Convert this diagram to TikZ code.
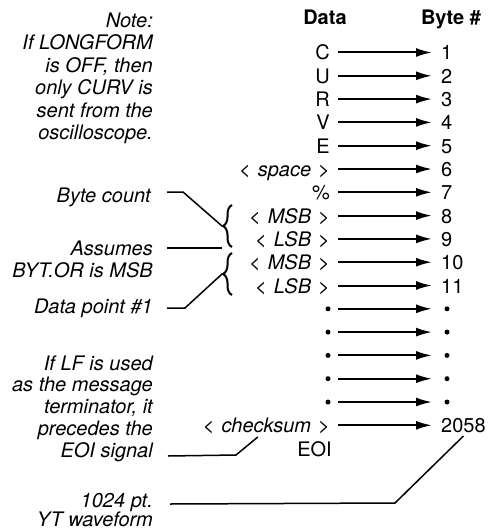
\documentclass[tikz,border=0pt]{standalone}
\usepackage{fontspec}
\setmainfont{TeX Gyre Heros}
\usetikzlibrary{arrows.meta,decorations.pathreplacing}
\newcommand{\angl}[1]{\textit{<\hspace{0.35em}#1\hspace{0.35em}>}}
\begin{document}
\begin{tikzpicture}[x=1pt,y=-1pt,
  every node/.style={inner sep=0pt, font=\fontsize{20}{22}\selectfont},
  hdr/.style={anchor=base, font=\fontsize{20}{22}\selectfont\bfseries},
  note/.style={align=right, anchor=north east},
  lab/.style={anchor=base east, inner xsep=8pt, inner ysep=0pt, text height=18pt, text depth=3pt},
  num/.style={anchor=base west, inner xsep=9pt, inner ysep=0pt, text height=18pt, text depth=3pt},
  bul/.style={circle, fill=black, inner sep=0pt, minimum size=5pt},
  arr/.style={line width=2pt, -{Latex[length=16pt,width=9pt]}},
  lead/.style={line width=1.5pt},
  brc/.style={line width=2pt, decorate, decoration={brace, amplitude=9pt}},
]
\useasboundingbox (0,0) rectangle (490,532);

% headers
\node[hdr] (hdata) at (325,25) {Data};
\node[hdr] (hbyte) at (451,25) {Byte \#};

% data labels and byte numbers
\foreach \t [count=\i from 0] in {C,U,R,V,E,{\angl{space}},\%,{\angl{MSB}},{\angl{LSB}},{\angl{MSB}},{\angl{LSB}}} {
  \node[lab] (l\i) at (338,{60+23.3*\i}) {\t};
  \node[num] (n\i) at (432,{60+23.3*\i}) {\the\numexpr\i+1\relax};
  \draw[arr] (l\i.east) -- (n\i.west);
}
\foreach \i in {11,...,15} {
  \node[bul] (l\i) at (328,{52.5+23.3*\i}) {};
  \node[bul] (n\i) at (447,{52.5+23.3*\i}) {};
  \draw[arr] ([xshift=10pt]l\i.center) -- ([xshift=-15pt]n\i.center);
}
\node[lab] (l16) at (338,{60+23.3*16}) {\angl{checksum}};
\node[num] (n16) at (432,{60+23.3*16}) {2058};
\draw[arr] (l16.east) -- (n16.west);
\node[anchor=base east] (eoi) at (332,456) {EOI};

% notes
\node[note, font=\fontsize{20}{22.5}\selectfont\itshape] (note) at (153,12.6)
  {Note:\\If LONGFORM\\is OFF, then\\only CURV is\\sent from the\\oscilloscope.};
\node[anchor=base east, font=\fontsize{20}{22}\selectfont\itshape] (bc) at (151,202) {Byte count};
\node[note, font=\fontsize{20}{22}\selectfont\itshape] (as) at (153,240.6) {Assumes\\BYT.OR is MSB};
\node[anchor=base east, font=\fontsize{20}{22}\selectfont\itshape] (dp) at (153,313) {Data point \#1};
\node[note, font=\fontsize{20}{21.75}\selectfont\itshape] (lf) at (153,355.4)
  {If LF is used\\as the message\\terminator, it\\precedes the\\EOI signal};
\node[note, font=\fontsize{20}{19.5}\selectfont\itshape] (yt) at (153,493) {1024 pt.\\YT waveform};

% braces
\draw[brc] (232,247) -- (232,205);
\draw[brc] (232,295) -- (232,253);
\coordinate (tip1) at (222,226);
\coordinate (tip2) at (222,274);
\coordinate (junc) at (222,248);

% leaders
\draw[lead] ([xshift=16pt,yshift=10pt]bc.base east) -- ++(16,0) -- (tip1);
\draw[lead] ([xshift=14pt,yshift=-7.4pt]as.north east) -- (junc);
\draw[lead] ([xshift=14pt,yshift=5pt]dp.base east) -- ++(18,0) -- (tip2);
\coordinate (lfs) at (168,456);
\draw[lead] (lfs) -- (236,455) -- ([xshift=-8.5pt,yshift=-1pt]l16.south);
\coordinate (yts) at (170,504);
\draw[lead] (yts) -- (395,503) -- (n16.south);
\end{tikzpicture}
\end{document}
